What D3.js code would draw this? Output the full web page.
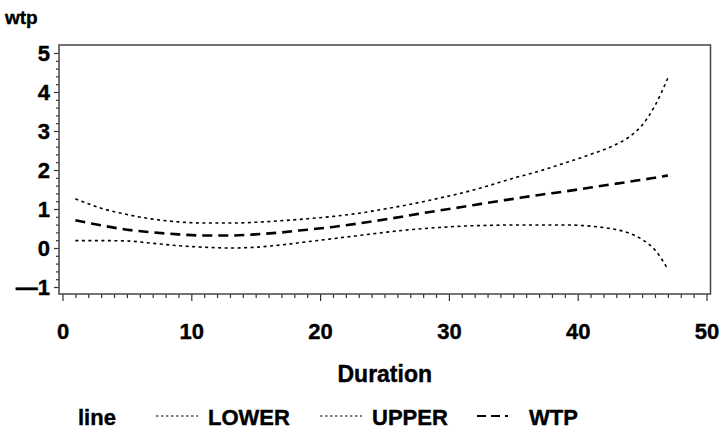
<!DOCTYPE html>
<html>
<head>
<meta charset="utf-8">
<script src="https://cdn.jsdelivr.net/npm/d3@7"></script>
<style>
  body { margin: 0; background: #fff; }
  text { font-family: "Liberation Sans", Arial, Helvetica, sans-serif; font-weight: bold; fill: #000; stroke: #000; stroke-width: 0.4px; }
</style>
</head>
<body>
<div id="vis"></div>
<script>
// values
var durations = [1, 3, 5, 7, 9, 11, 13, 15, 17, 19, 21, 23, 25, 27, 29, 31, 33, 35, 37, 39, 41, 43, 44, 45, 46, 47];
var lower = [0.19, 0.19, 0.18, 0.12, 0.06, 0.02, 0.00, 0.02, 0.08, 0.16, 0.24, 0.32, 0.40, 0.47, 0.52, 0.56, 0.58, 0.59, 0.59, 0.59, 0.56, 0.47, 0.38, 0.22, -0.05, -0.54];
var upper = [1.26, 1.02, 0.86, 0.74, 0.67, 0.64, 0.64, 0.66, 0.70, 0.75, 0.81, 0.89, 1.00, 1.12, 1.26, 1.41, 1.59, 1.79, 1.97, 2.18, 2.40, 2.66, 2.85, 3.15, 3.65, 4.36];
var wtp = [0.71, 0.58, 0.47, 0.40, 0.35, 0.32, 0.32, 0.35, 0.40, 0.47, 0.54, 0.63, 0.73, 0.84, 0.95, 1.05, 1.16, 1.26, 1.36, 1.45, 1.55, 1.65, 1.70, 1.75, 1.80, 1.86];
var xTicks = [0, 10, 20, 30, 40, 50];
var yTicks = [-1, 0, 1, 2, 3, 4, 5];
var seriesNames = ["LOWER", "UPPER", "WTP"];

function draw() {
  var width = 723, height = 437;
  var left = 59, right = 710.5, top = 45, bottom = 294;

  var svg = d3.select("#vis").append("svg")
              .attr("width", width)
              .attr("height", height);

  var x = d3.scaleLinear().domain([0, 50]).range([62.5, 706.5]);
  var y = d3.scaleLinear().domain([-1, 5]).range([287, 53]);

  // minor ticks
  var xMinor = d3.range(0, 51, 1).filter(function(d) { return d % 10 !== 0; });
  var yMinor = d3.range(-1, 5.01, 0.2).filter(function(d) { return Math.abs(d - Math.round(d)) > 0.01; });

  var gx = svg.append("g").attr("transform", "translate(0," + bottom + ")");
  gx.call(d3.axisBottom(x).tickValues(xMinor).tickSize(4).tickSizeOuter(0).tickFormat(""));
  gx.select(".domain").remove();
  var gx2 = svg.append("g").attr("transform", "translate(0," + bottom + ")");
  gx2.call(d3.axisBottom(x).tickValues(xTicks).tickSize(7).tickSizeOuter(0).tickPadding(22));
  gx2.select(".domain").remove();
  gx2.selectAll("text").attr("font-size", 22).style("font-family", null);

  var gy = svg.append("g").attr("transform", "translate(" + left + ",0)");
  gy.call(d3.axisLeft(y).tickValues(yMinor).tickSize(3).tickSizeOuter(0).tickFormat(""));
  gy.select(".domain").remove();
  var gy2 = svg.append("g").attr("transform", "translate(" + left + ",0)");
  gy2.call(d3.axisLeft(y).tickValues(yTicks).tickSize(5).tickSizeOuter(0).tickPadding(4)
          .tickFormat(function(d) { return d < 0 ? "\u2014" + Math.abs(d) : d; }));
  gy2.select(".domain").remove();
  gy2.selectAll("text").attr("font-size", 22).attr("dy", "0.36em").style("font-family", null);

  svg.selectAll(".tick line").attr("stroke", "#333").attr("stroke-width", 1.2);
  svg.selectAll(".tick text").attr("fill", "#000");

  // frame
  svg.append("rect")
     .attr("x", left).attr("y", top)
     .attr("width", right - left).attr("height", bottom - top)
     .attr("fill", "none").attr("stroke", "#444").attr("stroke-width", 1.5);

  var styles = {
    "LOWER": { data: lower, dash: "3,3.5", w: 1.6 },
    "UPPER": { data: upper, dash: "3,3.5", w: 1.6 },
    "WTP": { data: wtp, dash: "10,6", w: 2.6 }
  };

  var line = d3.line()
               .x(function(d) { return x(d[0]); })
               .y(function(d) { return y(d[1]); })
               .curve(d3.curveMonotoneX);

  seriesNames.forEach(function(name) {
    var s = styles[name];
    svg.append("path")
       .datum(durations.map(function(d, i) { return [d, s.data[i]]; }))
       .attr("d", line)
       .attr("fill", "none")
       .attr("stroke", "#000")
       .attr("stroke-width", s.w)
       .attr("stroke-dasharray", s.dash);
  });

  // titles
  svg.append("text").attr("x", 5).attr("y", 24).attr("font-size", 19).text("wtp");
  svg.append("text").attr("x", (left + right) / 2).attr("y", 382)
     .attr("text-anchor", "middle").attr("font-size", 23).text("Duration");

  // legend
  svg.append("text").attr("x", 78).attr("y", 425).attr("font-size", 22).text("line");
  var legX = [156, 320, 477];
  seriesNames.forEach(function(name, i) {
    svg.append("line")
       .attr("x1", legX[i]).attr("x2", legX[i] + 42)
       .attr("y1", 416).attr("y2", 416)
       .attr("stroke", "#000")
       .attr("stroke-width", name === "WTP" ? 2 : 1.2)
       .attr("stroke-dasharray", name === "WTP" ? "9,5,9,5,3,20" : "2.5,2.5");
    svg.append("text").attr("x", legX[i] + 52).attr("y", 425)
       .attr("font-size", 22).text(name);
  });
}

draw();
</script>
</body>
</html>
